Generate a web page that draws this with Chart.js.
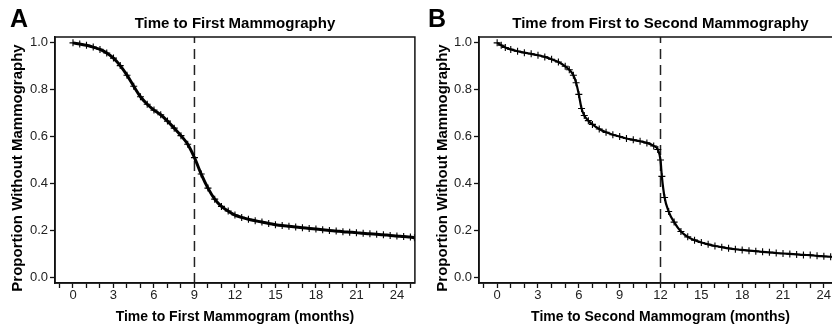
<!DOCTYPE html>
<html>
<head>
<meta charset="utf-8">
<script src="https://cdn.jsdelivr.net/npm/chart.js@4/dist/chart.umd.min.js"></script>
<style>
  html, body { margin:0; padding:0; background:#fff; overflow:hidden; width:832px; height:327px; }
  .panel { position:absolute; top:0; }
  #wa { left:0; width:420px; height:327px; }
  #wb { left:420px; width:440px; height:327px; }
</style>
</head>
<body>
<div class="panel" id="wa"><canvas id="ca" width="420" height="327"></canvas></div>
<div class="panel" id="wb"><canvas id="cb" width="440" height="327"></canvas></div>
<script>
// ---- data ----
const panelLetters = ["A", "B"];
const panelTitles = ["Time to First Mammography", "Time from First to Second Mammography"];
const xTitles = ["Time to First Mammogram (months)", "Time to Second Mammogram (months)"];
const yTitle = "Proportion Without Mammography";
const xTickLabels = [0, 3, 6, 9, 12, 15, 18, 21, 24];
const yTickLabels = [0.0, 0.2, 0.4, 0.6, 0.8, 1.0];
const refLines = [9, 12];

// Panel A: months, survival proportion
const firstMonths = [0, 0.5, 1.0, 1.5, 2.0, 2.5, 3.0, 3.5, 4.0, 4.5, 5.0, 5.5, 6.0, 6.5, 7.0, 7.5, 8.0, 8.5, 9.0, 9.5, 10.0, 10.5, 11.0, 11.5, 12.0, 12.5, 13.0, 13.5, 14.0, 14.5, 15.0, 15.5, 16.0, 16.5, 17.0, 17.5, 18.0, 18.5, 19.0, 19.5, 20.0, 20.5, 21.0, 21.5, 22.0, 22.5, 23.0, 23.5, 24.0, 24.5, 25.0, 25.3];
const firstSurv   = [1.0, 0.995, 0.99, 0.982, 0.972, 0.957, 0.935, 0.903, 0.862, 0.815, 0.77, 0.738, 0.713, 0.693, 0.666, 0.636, 0.604, 0.567, 0.51, 0.44, 0.38, 0.333, 0.302, 0.282, 0.265, 0.255, 0.247, 0.241, 0.235, 0.229, 0.224, 0.220, 0.217, 0.214, 0.211, 0.208, 0.205, 0.202, 0.199, 0.197, 0.194, 0.192, 0.19, 0.187, 0.185, 0.183, 0.181, 0.178, 0.176, 0.173, 0.171, 0.168];

// Panel B: months, survival proportion
const secondMonths = [0, 0.3, 0.6, 1.0, 1.5, 2.0, 2.5, 3.0, 3.5, 4.0, 4.5, 5.0, 5.3, 5.6, 5.8, 6.0, 6.2, 6.4, 6.7, 7.0, 7.5, 8.0, 8.5, 9.0, 9.5, 10.0, 10.5, 11.0, 11.5, 11.8, 12.0, 12.1, 12.3, 12.6, 13.0, 13.5, 14.0, 14.5, 15.0, 15.5, 16.0, 16.5, 17.0, 17.5, 18.0, 18.5, 19.0, 19.5, 20.0, 20.5, 21.0, 21.5, 22.0, 22.5, 23.0, 23.5, 24.0, 24.5, 25.0];
const secondSurv   = [1.0, 0.99, 0.98, 0.972, 0.964, 0.958, 0.953, 0.947, 0.94, 0.93, 0.918, 0.90, 0.885, 0.862, 0.83, 0.78, 0.72, 0.69, 0.668, 0.652, 0.632, 0.618, 0.608, 0.600, 0.592, 0.586, 0.580, 0.573, 0.56, 0.545, 0.50, 0.43, 0.34, 0.28, 0.235, 0.195, 0.172, 0.158, 0.148, 0.14, 0.133, 0.128, 0.123, 0.119, 0.116, 0.113, 0.111, 0.108, 0.106, 0.103, 0.101, 0.099, 0.097, 0.095, 0.094, 0.091, 0.089, 0.087, 0.085];

const X_MIN = -1.333, X_MAX = 25.333, Y_MIN = -0.025, Y_MAX = 1.025;
const FONT = "'Liberation Sans', Arial, Helvetica, sans-serif";
const INK = "#111";

Chart.defaults.font.family = FONT;
Chart.defaults.color = INK;

function makeChart(canvasId, idx, months, surv, geom) {
  const pts = months.map((m, i) => ({ x: m, y: surv[i] }));
  const refLine = [{ x: refLines[idx], y: Y_MIN }, { x: refLines[idx], y: Y_MAX }];

  const decor = {
    id: 'decor' + idx,
    afterDraw(chart) {
      const ctx = chart.ctx, a = chart.chartArea;
      ctx.save();
      ctx.strokeStyle = INK;
      ctx.lineWidth = 1.5;
      ctx.strokeRect(a.left, a.top, a.right - a.left, a.bottom - a.top);
      ctx.fillStyle = "#000";
      ctx.textAlign = "left";
      ctx.textBaseline = "alphabetic";
      ctx.font = "bold 25px " + FONT;
      ctx.fillText(panelLetters[idx], geom.letterX, 27);
      ctx.textAlign = "center";
      ctx.font = "bold 15px " + FONT;
      ctx.fillText(panelTitles[idx], (a.left + a.right) / 2, 28);
      ctx.font = "bold 14px " + FONT;
      ctx.fillText(xTitles[idx], (a.left + a.right) / 2, 321);
      ctx.translate(geom.yTitleX, 168);
      ctx.rotate(-Math.PI / 2);
      ctx.textBaseline = "middle";
      ctx.font = "bold 15px " + FONT;
      ctx.fillText(yTitle, 0, 0);
      ctx.restore();
    }
  };

  return new Chart(document.getElementById(canvasId), {
    type: 'line',
    data: {
      datasets: [
        {
          data: pts,
          borderColor: "#000",
          backgroundColor: "#000",
          borderWidth: geom.lineWidth,
          cubicInterpolationMode: 'monotone',
          pointStyle: 'cross',
          pointRadius: 3.5,
          pointBorderWidth: 1.1,
          pointBorderColor: "#000",
        },
        {
          data: refLine,
          borderColor: "#222",
          borderWidth: 1.5,
          borderDash: [10, 6],
          pointRadius: 0,
        }
      ]
    },
    options: {
      responsive: false,
      animation: false,
      devicePixelRatio: 1,
      layout: { padding: { left: 0, right: geom.padRight, top: 37, bottom: 0 } },
      plugins: { legend: { display: false }, tooltip: { enabled: false }, title: { display: false } },
      scales: {
        x: {
          type: 'linear',
          min: X_MIN, max: X_MAX,
          afterFit: s => { s.height = 44; },
          grid: { drawOnChartArea: false, drawTicks: true, tickLength: 5, tickWidth: 1.3, tickColor: INK },
          border: { display: true, color: INK, width: 1.5 },
          ticks: {
            stepSize: 1, autoSkip: false, maxRotation: 0, includeBounds: false, padding: 0,
            font: { size: 13 }, color: "#222",
            callback: v => (xTickLabels.includes(v) ? String(v) : '')
          }
        },
        y: {
          type: 'linear',
          min: Y_MIN, max: Y_MAX,
          afterFit: s => { s.width = geom.yWidth; },
          grid: { drawOnChartArea: false, drawTicks: true, tickLength: 5, tickWidth: 1.3, tickColor: INK },
          border: { display: true, color: INK, width: 1.5 },
          ticks: {
            stepSize: 0.2, includeBounds: false, padding: 2, autoSkip: false,
            font: { size: 13 }, color: "#222",
            callback: v => {
              const r = Math.round(v * 10) / 10;
              return yTickLabels.some(t => Math.abs(t - r) < 1e-9) && Math.abs(v - r) < 1e-6 ? r.toFixed(1) : '';
            }
          }
        }
      }
    },
    plugins: [decor]
  });
}

makeChart('ca', 0, firstMonths, firstSurv, { padRight: 4, yWidth: 55, letterX: 10, yTitleX: 18, lineWidth: 3 });
makeChart('cb', 1, secondMonths, secondSurv, { padRight: 18, yWidth: 59, letterX: 8, yTitleX: 23, lineWidth: 2.2 });
</script>
</body>
</html>
